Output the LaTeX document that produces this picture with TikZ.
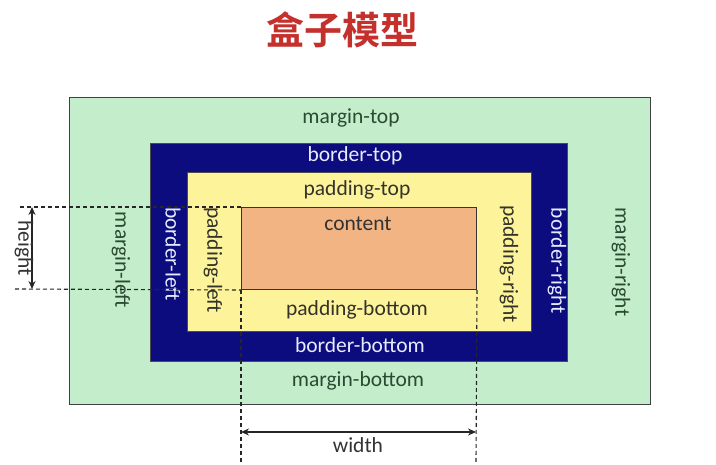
\documentclass[tikz,border=0pt]{standalone}
\usepackage{fontspec}
\setmainfont{Carlito}
\newfontfamily\cjkbold[BoldFont={Noto Sans CJK SC Bold}]{Noto Sans CJK SC}
\usetikzlibrary{arrows.meta}
\definecolor{mgreen}{HTML}{C4EECB}
\definecolor{bnavy}{HTML}{0C0C7E}
\definecolor{pyellow}{HTML}{FDF39B}
\definecolor{csalmon}{HTML}{F2B482}
\definecolor{mtext}{HTML}{2A4A32}
\definecolor{ptext}{HTML}{33332A}
\definecolor{btext}{HTML}{E6ECFF}
\definecolor{titlered}{HTML}{C4302C}
\tikzset{
  boxarea/.style={draw=#1, line width=1pt, anchor=north west, inner sep=0pt},
  lbl/.style={font=\fontsize{21.5}{23}\selectfont, inner sep=0pt},
  mlbl/.style={lbl, text=mtext},
  blbl/.style={lbl, text=btext},
  plbl/.style={lbl, text=ptext},
  clbl/.style={lbl, text=black!80},
  guide/.style={draw=black!85, line width=1.1pt, dash pattern=on 4pt off 3pt},
  measure/.style={draw=black!85, line width=1.2pt, {Stealth[length=8pt,width=7pt]}-{Stealth[length=8pt,width=7pt]}},
}
\begin{document}
\begin{tikzpicture}[x=1pt,y=-1pt]
\useasboundingbox (0,0) rectangle (716,465);
\fill[white] (0,0) rectangle (716,465);
% title
\node[font=\cjkbold\bfseries\fontsize{38}{40}\selectfont, text=titlered] (title) at (342,30) {盒子模型};
% boxes
\node[boxarea=black!75, fill=mgreen, minimum width=581pt, minimum height=307pt] (margin) at (69,97) {};
\node[boxarea=black!70, fill=bnavy, minimum width=417pt, minimum height=218pt] (border) at (150,143) {};
\node[boxarea=black!70, fill=pyellow, minimum width=344pt, minimum height=159pt] (padding) at (187,172) {};
\node[boxarea=black!80, fill=csalmon, minimum width=235pt, minimum height=82pt] (content) at (241,207) {};
% horizontal labels
\node[mlbl] (mt) at (351,118) {margin-top};
\node[blbl] (bt) at (355,156) {border-top};
\node[plbl] (pt) at (357,190) {padding-top};
\node[clbl] (ct) at (358,224) {content};
\node[plbl] (pb) at (357,310) {padding-bottom};
\node[blbl] (bb) at (360,345) {border-bottom};
\node[mlbl] (mb) at (358,381) {margin-bottom};
% vertical labels
\node[mlbl, rotate=-90] (ml) at (121,260) {margin-left};
\node[blbl, rotate=-90] (bl) at (173,254) {border-left};
\node[plbl, rotate=-90] (pl) at (213,260) {padding-left};
\node[plbl, rotate=-90] (pr) at (509,264) {padding-right};
\node[blbl, rotate=-90] (br) at (557,261) {border-right};
\node[mlbl, rotate=-90] (mr) at (621,262) {margin-right};
% guides
\coordinate (gtl) at (20,207);
\coordinate (gbl) at (15,289);
\coordinate (gwl) at (241,462);
\coordinate (gwr) at (476,462);
\draw[guide] (gtl) -- (content.north west);
\draw[guide] (gbl) -- (content.south west);
\draw[guide] (content.south west) -- (gwl);
\draw[guide] (content.south east) -- (gwr);
% measures
\coordinate (ht) at (32,207);
\coordinate (hb) at (32,289);
\draw[measure] (ht) -- (hb);
\node[clbl, rotate=-90] (hl) at (24,248) {height};
\coordinate (wl) at (241,432);
\coordinate (wr) at (476,432);
\draw[measure] (wl) -- (wr);
\node[clbl] (wlab) at (358,445) {width};
\end{tikzpicture}
\end{document}
